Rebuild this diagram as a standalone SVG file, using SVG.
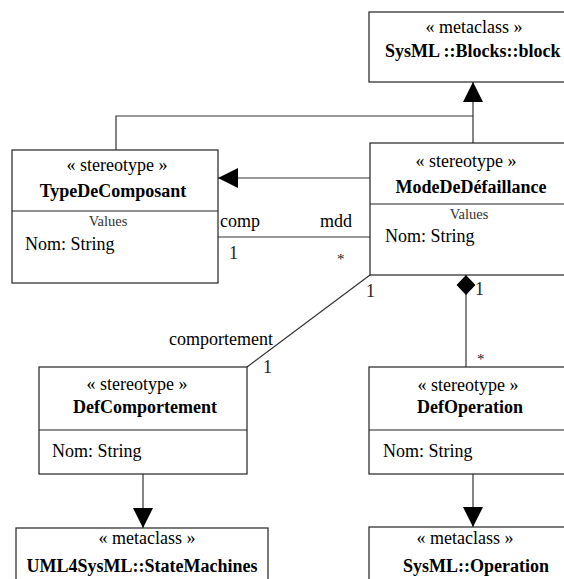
<svg xmlns="http://www.w3.org/2000/svg" width="564" height="579" viewBox="0 0 564 579" font-family="'Liberation Serif', 'DejaVu Serif', serif" font-size="18">
  <style>
    .box { fill: #ffffff; stroke: #222222; stroke-width: 1.2; }
    .div { stroke: #222222; stroke-width: 1.2; }
    .edge { fill: none; stroke: #333333; stroke-width: 1.2; }
    text { fill: #000000; }
    .name { font-weight: bold; text-anchor: middle; }
    .stereo { text-anchor: middle; }
    .small { font-size: 14.5px; fill: #333333; text-anchor: middle; }
    .mult { fill: #222222; }
  </style>
  <defs>
    <marker id="tri" markerUnits="userSpaceOnUse" markerWidth="20" markerHeight="20" viewBox="0 0 18 18" refX="18" refY="9" orient="auto">
      <path d="M0,0 L18,9 L0,18 Z" fill="#000000"/>
    </marker>
    <marker id="diamond" markerUnits="userSpaceOnUse" markerWidth="20" markerHeight="20" viewBox="0 0 18 18" refX="18" refY="9" orient="auto">
      <path d="M0,9 L9,0.5 L18,9 L9,17.5 Z" fill="#000000"/>
    </marker>
  </defs>

  <!-- connectors -->
  <g id="connectors">
    <path class="edge" d="M473,143 V82" marker-end="url(#tri)"/>
    <path class="edge" d="M116,150 V116 H473"/>
    <path class="edge" d="M370,178 H218" marker-end="url(#tri)"/>
    <path class="edge" d="M218,237 H370"/>
    <path class="edge" d="M370,275 L247,367" stroke-width="1"/>
    <path class="edge" d="M466,367 V275" marker-end="url(#diamond)"/>
    <path class="edge" d="M143,474 V528" marker-end="url(#tri)"/>
    <path class="edge" d="M473,474 V527" marker-end="url(#tri)"/>

    <!-- association ends -->
    <text x="220" y="227">comp</text>
    <text x="320" y="227">mdd</text>
    <text class="mult" x="229" y="259">1</text>
    <text class="mult" x="337" y="264" font-size="15">*</text>
    <text x="273" y="345" text-anchor="end">comportement</text>
    <text class="mult" x="263" y="373">1</text>
    <text class="mult" x="366" y="297">1</text>
    <text class="mult" x="475" y="295">1</text>
    <text class="mult" x="477" y="364" font-size="15">*</text>
  </g>

  <!-- SysML::Blocks::block metaclass -->
  <g id="block">
    <rect class="box" x="369" y="12" width="210" height="70"/>
    <text class="stereo" x="474" y="33">« metaclass »</text>
    <text x="385" y="57" font-weight="bold">SysML ::Blocks::block</text>
  </g>

  <!-- TypeDeComposant -->
  <g id="TypeDeComposant">
    <rect class="box" x="12" y="150" width="206" height="133"/>
    <line class="div" x1="12" y1="211" x2="218" y2="211"/>
    <text class="stereo" x="117" y="171">« stereotype »</text>
    <text class="name" x="113" y="197">TypeDeComposant</text>
    <text class="small" x="108" y="226">Values</text>
    <text x="25" y="250">Nom: String</text>
  </g>

  <!-- ModeDeDefaillance -->
  <g id="ModeDeDefaillance">
    <rect class="box" x="370" y="143" width="196" height="132"/>
    <line class="div" x1="370" y1="204" x2="566" y2="204"/>
    <text class="stereo" x="466" y="167">« stereotype »</text>
    <text class="name" x="471" y="193">ModeDeDéfaillance</text>
    <text class="small" x="469" y="219">Values</text>
    <text x="385" y="242">Nom: String</text>
  </g>

  <!-- DefComportement -->
  <g id="DefComportement">
    <rect class="box" x="39" y="367" width="208" height="107"/>
    <line class="div" x1="39" y1="430" x2="247" y2="430"/>
    <text class="stereo" x="137" y="390">« stereotype »</text>
    <text class="name" x="145" y="413">DefComportement</text>
    <text x="52" y="457">Nom: String</text>
  </g>

  <!-- DefOperation -->
  <g id="DefOperation">
    <rect class="box" x="369" y="367" width="200" height="107"/>
    <line class="div" x1="369" y1="430" x2="569" y2="430"/>
    <text class="stereo" x="468" y="391">« stereotype »</text>
    <text class="name" x="470" y="413">DefOperation</text>
    <text x="383" y="457">Nom: String</text>
  </g>

  <!-- UML4SysML::StateMachines metaclass -->
  <g id="StateMachines">
    <rect class="box" x="16" y="528" width="252" height="60"/>
    <text class="stereo" x="147" y="544">« metaclass »</text>
    <text class="name" x="142" y="572">UML4SysML::StateMachines</text>
  </g>

  <!-- SysML::Operation metaclass -->
  <g id="Operation">
    <rect class="box" x="369" y="527" width="210" height="60"/>
    <text class="stereo" x="465" y="544">« metaclass »</text>
    <text class="name" x="476" y="572">SysML::Operation</text>
  </g>
</svg>
